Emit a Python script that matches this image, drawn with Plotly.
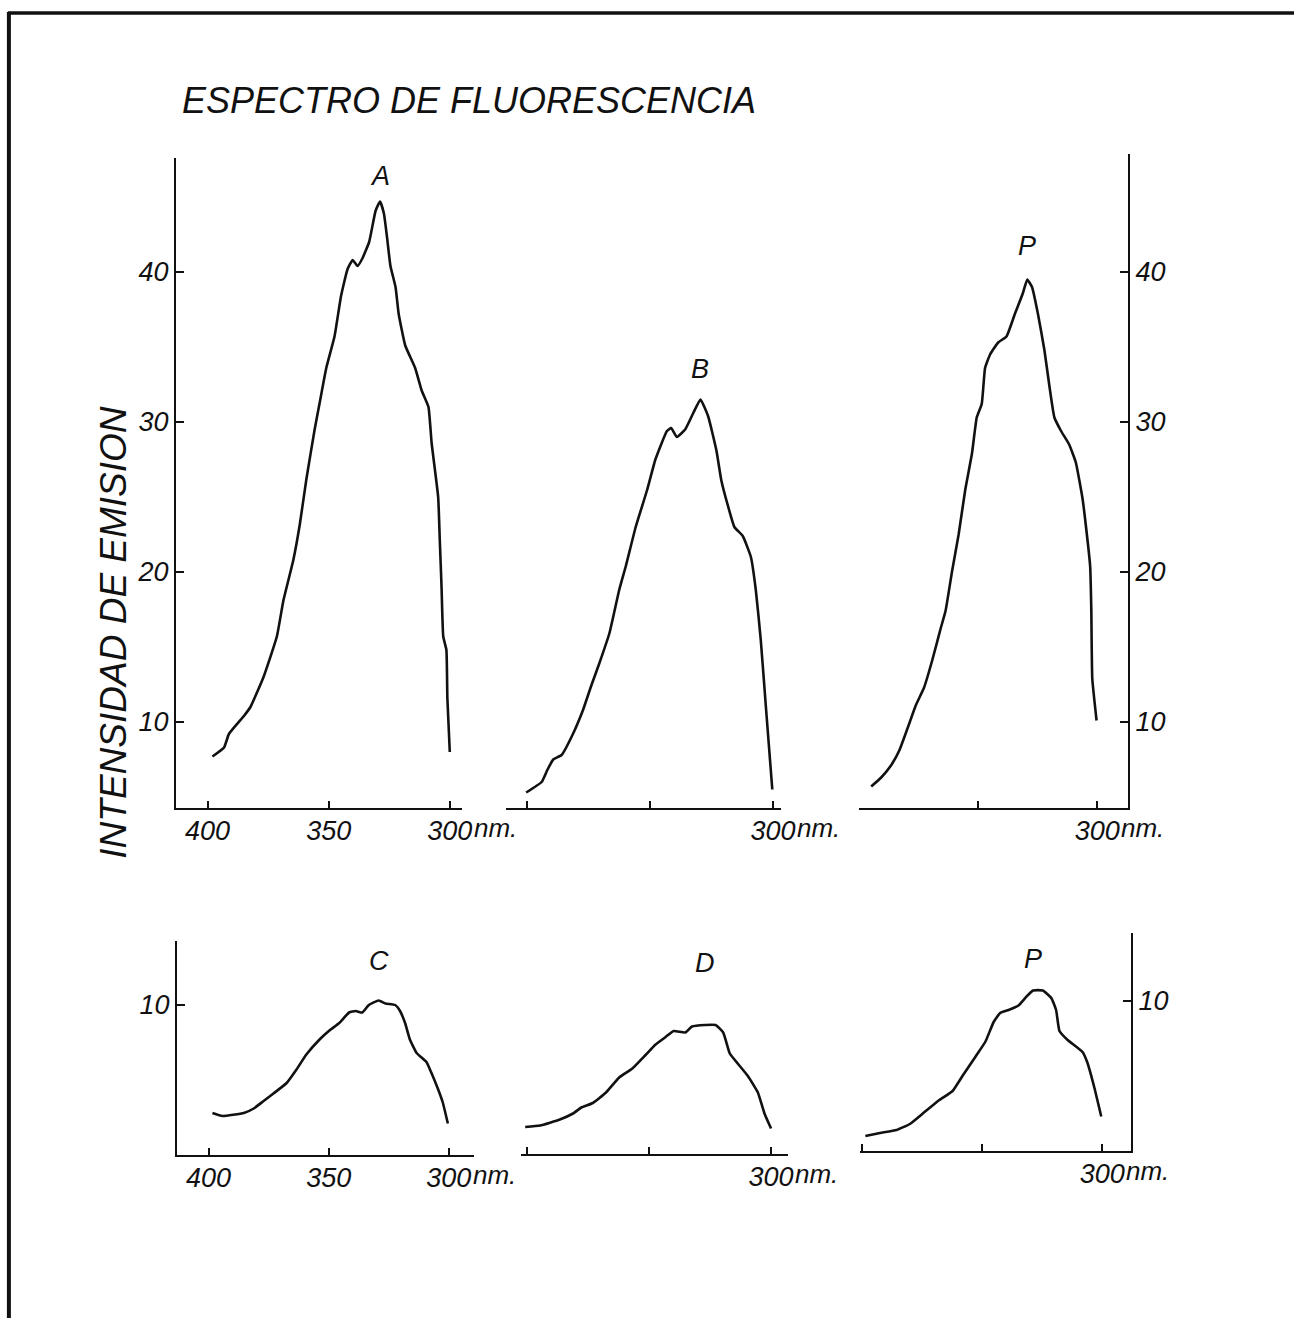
import plotly.graph_objects as go

# ---------------- data ----------------
title_text = "ESPECTRO DE FLUORESCENCIA"
ytitle_text = "INTENSIDAD DE EMISION"
unit_text = "nm."

A_nm = [398.0, 393.2, 391.2, 385.0, 382.3, 376.9, 371.4, 368.7, 364.6, 361.9, 359.2, 355.8,
        353.7, 351.0, 347.6, 344.9, 342.2, 340.1, 338.1, 336.1, 333.3, 330.6, 328.8, 327.2,
        325.9, 324.5, 322.4, 321.1, 318.4, 314.3, 311.6, 308.8, 307.5, 304.8, 304.1, 303.4,
        302.7, 301.4, 301.0, 300.0]
A_int = [7.7, 8.3, 9.2, 10.4, 11.0, 13.0, 15.7, 18.1, 20.8, 23.2, 26.2, 29.5,
         31.3, 33.6, 35.7, 38.4, 40.2, 40.8, 40.4, 40.9, 42.0, 44.1, 44.7, 43.9,
         42.3, 40.4, 39.0, 37.2, 35.1, 33.6, 32.1, 31.0, 28.6, 25.0, 22.0, 19.0,
         15.7, 14.8, 11.6, 8.0]

B_nm = [400.3, 394.0, 391.7, 389.3, 385.9, 381.3, 377.2, 373.9, 370.6, 366.5, 362.5, 359.8,
        355.8, 351.1, 347.8, 343.1, 341.4, 339.1, 335.7, 332.4, 329.5, 326.4, 323.0, 321.0,
        318.3, 315.7, 312.3, 309.0, 307.0, 305.0, 302.9, 300.3]
B_int = [5.3, 6.0, 6.8, 7.5, 7.8, 9.2, 10.8, 12.4, 13.9, 15.9, 18.8, 20.4,
         23.0, 25.5, 27.5, 29.4, 29.6, 29.0, 29.5, 30.6, 31.5, 30.4, 28.1, 26.1,
         24.4, 23.0, 22.4, 21.0, 18.8, 15.5, 11.0, 5.5]

P1_nm = [394.9, 390.7, 386.6, 383.1, 379.6, 376.2, 372.7, 369.3, 365.8, 363.7, 360.9, 358.2,
         355.4, 352.6, 350.6, 348.5, 347.1, 345.0, 341.6, 338.1, 334.6, 331.2, 329.4, 327.4,
         324.9, 322.2, 320.1, 318.0, 315.2, 311.8, 309.0, 306.2, 304.8, 303.0, 302.5, 302.1,
         300.3]
P1_int = [5.7, 6.3, 7.1, 8.1, 9.6, 11.1, 12.3, 14.1, 16.2, 17.4, 20.1, 22.5,
          25.5, 27.9, 30.3, 31.2, 33.6, 34.5, 35.3, 35.7, 37.2, 38.6, 39.5, 39.0,
          37.2, 34.8, 32.4, 30.3, 29.4, 28.5, 27.3, 24.9, 23.1, 20.4, 17.4, 12.9,
          10.1]

C_nm = [398.4, 394.2, 385.3, 381.2, 377.1, 373.0, 367.5, 363.4, 359.3, 353.8, 349.7, 345.6,
        341.5, 338.8, 336.0, 333.3, 329.2, 326.4, 322.3, 320.3, 318.2, 316.2, 313.4, 309.3,
        307.3, 304.5, 302.5, 300.4]
C_int = [2.8, 2.6, 2.8, 3.1, 3.6, 4.1, 4.8, 5.7, 6.7, 7.7, 8.3, 8.8,
         9.5, 9.6, 9.5, 10.0, 10.3, 10.1, 10.0, 9.6, 8.8, 7.7, 6.8, 6.2,
         5.5, 4.4, 3.5, 2.1]

D_nm = [400.7, 394.6, 386.5, 381.1, 377.7, 373.0, 367.6, 362.2, 356.8, 351.4, 347.3, 343.2,
        339.9, 335.1, 332.4, 327.0, 322.7, 319.6, 316.9, 313.5, 309.5, 305.4, 302.7, 300.0]
D_int = [1.8, 1.9, 2.3, 2.7, 3.1, 3.4, 4.1, 5.1, 5.7, 6.6, 7.3, 7.8,
         8.2, 8.1, 8.5, 8.6, 8.6, 8.1, 6.7, 6.0, 5.2, 4.1, 2.7, 1.7]

P2_nm = [398.6, 392.5, 385.6, 380.1, 374.7, 367.8, 362.3, 358.2, 352.7, 348.6, 345.2, 342.5,
         339.0, 334.9, 331.5, 328.8, 324.7, 321.2, 319.2, 317.8, 314.4, 308.2, 306.2, 303.4,
         300.4]
P2_int = [1.0, 1.2, 1.4, 1.8, 2.5, 3.4, 4.0, 5.0, 6.3, 7.3, 8.6, 9.2,
          9.4, 9.7, 10.3, 10.7, 10.7, 10.2, 9.4, 8.0, 7.4, 6.6, 5.9, 4.3,
          2.3]

panel_labels = ["A", "B", "P", "C", "D", "P"]
x_tickvals = [400, 350, 300]
x_ticktext_full = ["400", "350", "300"]
x_ticktext_short = ["", "", "300"]
top_yticks = [10, 20, 30, 40]
bottom_yticks = [10]

# ---------------- layout geometry (pixels) ----------------
W, H = 1309, 1318
PX_PER_UNIT = 15.0

panels = [
    # left/right: x-axis extent ; p400/p300: tick pixels ; bottom/top: y extent ; ref: pixel of y=10
    dict(nm=A_nm, v=A_int, left=178, right=467, p400=210, p300=455, bottom=808, top=158, ref=722,
         yaxis="left", yticks=top_yticks, xt=x_ticktext_full, lab_shift=25),
    dict(nm=B_nm, v=B_int, left=512, right=790, p400=533, p300=782, bottom=808, top=158, ref=722,
         yaxis=None, yticks=[], xt=x_ticktext_short, lab_shift=31),
    dict(nm=P1_nm, v=P1_int, left=869, right=1141, p400=869, p300=1110, bottom=808, top=154, ref=722,
         yaxis="right", yticks=top_yticks, xt=x_ticktext_short, lab_shift=34),
    dict(nm=C_nm, v=C_int, left=179, right=480, p400=211, p300=454, bottom=1155, top=941, ref=1005,
         yaxis="left", yticks=bottom_yticks, xt=x_ticktext_full, lab_shift=40),
    dict(nm=D_nm, v=D_int, left=527, right=797, p400=533, p300=780, bottom=1154, top=941, ref=1004,
         yaxis=None, yticks=[], xt=x_ticktext_short, lab_shift=62),
    dict(nm=P2_nm, v=P2_int, left=870, right=1144, p400=872, p300=1115, bottom=1151, top=933, ref=1001,
         yaxis="right", yticks=bottom_yticks, xt=x_ticktext_short, lab_shift=32),
]

FONT = "Liberation Sans"
TICK_SIZE = 27
tickfont = dict(family=FONT, size=TICK_SIZE, color="#111", style="italic")

fig = go.Figure()
layout = dict(
    width=W, height=H,
    margin=dict(l=0, r=0, t=0, b=0),
    paper_bgcolor="white", plot_bgcolor="rgba(0,0,0,0)",
    showlegend=False,
    annotations=[], shapes=[],
)

for i, p in enumerate(panels):
    k = "" if i == 0 else str(i + 1)
    s = (p["p300"] - p["p400"]) / 100.0
    xr = [400 + (p["p400"] - p["left"]) / s, 300 - (p["right"] - p["p300"]) / s]
    yr = [10 - (p["bottom"] - p["ref"]) / PX_PER_UNIT, 10 + (p["ref"] - p["top"]) / PX_PER_UNIT]

    fig.add_trace(go.Scatter(x=p["nm"], y=p["v"], mode="lines",
                             line=dict(color="#111", width=2.6, shape="spline", smoothing=0.4),
                             xaxis="x" + k, yaxis="y" + k, hoverinfo="skip"))

    layout["xaxis" + k] = dict(
        domain=[p["left"] / W, p["right"] / W], range=xr, anchor="y" + k,
        showgrid=False, zeroline=False, showline=True, linecolor="#111", linewidth=2.2,
        ticks="inside", ticklen=7, tickwidth=2, tickcolor="#111",
        tickvals=x_tickvals, ticktext=p["xt"], tickfont=tickfont, ticklabelstandoff=-3,
    )
    ydict = dict(
        domain=[1 - p["bottom"] / H, 1 - p["top"] / H], range=yr, anchor="x" + k,
        showgrid=False, zeroline=False,
    )
    if p["yaxis"] is None:
        ydict.update(visible=False)
    else:
        ydict.update(side=p["yaxis"], showline=True, linecolor="#111", linewidth=2.2,
                     ticks="inside", ticklen=8, tickwidth=2, tickcolor="#111",
                     tickvals=p["yticks"], ticktext=[str(t) for t in p["yticks"]],
                     tickfont=tickfont)
    layout["yaxis" + k] = ydict

    # "nm." after the 300 label
    layout["annotations"].append(dict(
        text=unit_text, x=300, y=0, xref="x" + k, yref="y" + k + " domain",
        xanchor="left", yanchor="top", xshift=22, yshift=-3, showarrow=False,
        font=dict(family=FONT, size=TICK_SIZE - 1, color="#111", style="italic"),
    ))
    # panel letter above the peak
    imax = max(range(len(p["v"])), key=lambda j: p["v"][j])
    layout["annotations"].append(dict(
        text=panel_labels[i], x=p["nm"][imax], y=p["v"][imax], xref="x" + k, yref="y" + k,
        xanchor="center", yanchor="middle", yshift=p["lab_shift"], showarrow=False,
        font=dict(family=FONT, size=27, color="#111", style="italic"),
    ))

# chart title and y title
layout["annotations"].append(dict(
    text=title_text, x=182 / W, y=1 - 100 / H, xref="paper", yref="paper",
    xanchor="left", yanchor="middle", showarrow=False,
    font=dict(family=FONT, size=36, color="#111", style="italic"),
))
layout["annotations"].append(dict(
    text=ytitle_text, x=114 / W, y=1 - 632 / H, xref="paper", yref="paper",
    xanchor="center", yanchor="middle", textangle=-90, showarrow=False,
    font=dict(family=FONT, size=37, color="#111", style="italic"),
))

# page border (top and left edges of the scanned sheet)
layout["shapes"] += [
    dict(type="line", xref="paper", yref="paper", x0=8 / W, x1=1.0, y0=1 - 13 / H, y1=1 - 13 / H,
         line=dict(color="#111", width=3.5)),
    dict(type="line", xref="paper", yref="paper", x0=9 / W, x1=9 / W, y0=1 - 12 / H, y1=0,
         line=dict(color="#111", width=4)),
]

fig.update_layout(**layout)
fig.write_html("out.html")
